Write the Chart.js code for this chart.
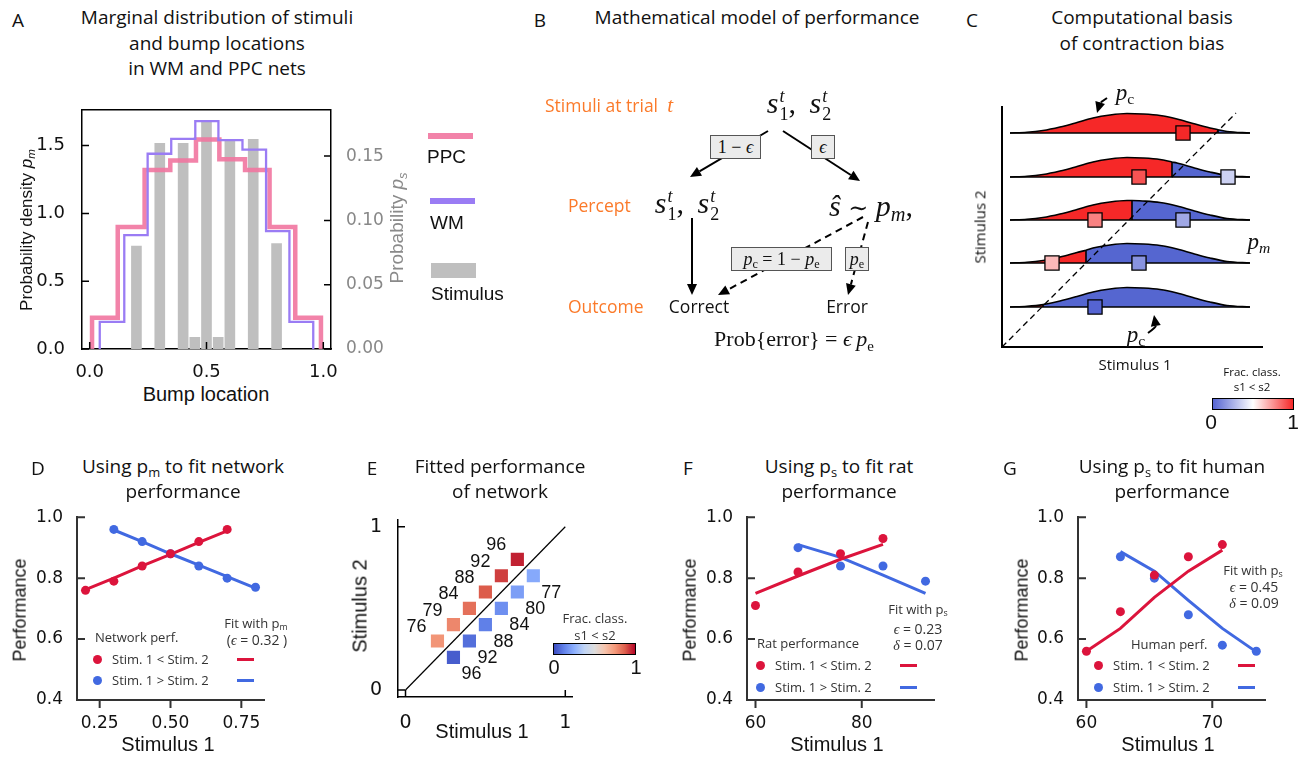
<!DOCTYPE html>
<html>
<head>
<meta charset="utf-8">
<script src="https://cdn.jsdelivr.net/npm/chart.js@4.4.1/dist/chart.umd.min.js"></script>
<style>
  body { margin: 0; background: #fff; }
  #fig { position: relative; width: 1309px; height: 758px; overflow: hidden; font-family: "Open Sans", sans-serif; color: #111; }
  #fig canvas { position: absolute; }
  .t { position: absolute; white-space: nowrap; line-height: 1.15; }
  .cm { font-family: "Liberation Serif", "DejaVu Serif", serif; }
  .ls { font-family: "Liberation Sans", sans-serif; }
  .stk { display: inline-block; vertical-align: -0.38em; font-size: 0.6em; line-height: 1.0; text-align: left; margin-left: 1px; }
  .stk span { display: block; }
  .tl { font-family: "DejaVu Serif", serif; font-style: normal; font-size: 0.8em; }
  sub { font-size: 0.68em; vertical-align: -0.28em; line-height: 0; font-style: normal; }
  .box { position: absolute; background: #ebebeb; border: 1.5px solid #555; box-sizing: border-box; display: flex; align-items: center; justify-content: center; font-family: "Liberation Serif", serif; font-size: 18px; white-space: nowrap; }
</style>
</head>
<body>
<div id="fig"></div>
<script>
// ---------- A: marginal distributions
const ppcEdges = [0.01, 0.12, 0.235, 0.345, 0.455, 0.555, 0.665, 0.77, 0.88, 0.99];
const ppcDensity = [0.23, 0.90, 1.32, 1.39, 1.545, 1.40, 1.32, 0.90, 0.23];
const wmEdges = [0.043, 0.148, 0.248, 0.349, 0.452, 0.551, 0.654, 0.755, 0.855, 0.957];
const wmDensity = [0.20, 0.84, 1.44, 1.55, 1.68, 1.54, 1.47, 0.87, 0.20];
const stimLocs = [0.2, 0.3, 0.4, 0.45, 0.5, 0.55, 0.6, 0.7, 0.8];
const stimProbs = [0.080, 0.160, 0.160, 0.009, 0.177, 0.009, 0.162, 0.163, 0.082];

// ---------- C: sketch of p_m around each stimulus 2 level
const ridgeBase = [214, 170, 127, 84, 40];
const ridgeSplit = [216, 170, 130, 84, 41];
const ridgeSplitH = [3.3, 15, 19.5, 12.8, 2.4];
const bumpX = [8, 25, 41, 58, 75, 91, 108, 125, 141, 158, 175, 191, 208, 225, 248];
const bumpH = [0, 0.7, 2.5, 6, 10.5, 15, 18, 19.5, 19, 17.5, 14, 9.5, 5, 1.5, 0];
const sqX = [181, 137, 226, 93, 181, 50, 137, 93];
const sqRow = [0, 1, 1, 2, 2, 3, 3, 4];
const sqFrac = [1.0, 0.9, 0.35, 0.79, 0.22, 0.66, 0.15, 0.0];

// ---------- D / E: network
const netStimLo = [0.2, 0.3, 0.4, 0.5, 0.6, 0.7];
const netPerfLo = [0.76, 0.79, 0.84, 0.88, 0.92, 0.96];
const netFitLo = [0.762, 0.80, 0.84, 0.878, 0.917, 0.955];
const netStimHi = [0.3, 0.4, 0.5, 0.6, 0.7, 0.8];
const netPerfHi = [0.96, 0.92, 0.88, 0.84, 0.80, 0.77];
const netFitHi = [0.958, 0.92, 0.88, 0.843, 0.805, 0.767];

const gridS1Lo = [0.2, 0.3, 0.4, 0.5, 0.6, 0.7];
const gridS2Lo = [0.3, 0.4, 0.5, 0.6, 0.7, 0.8];
const gridPerfLo = [0.76, 0.79, 0.84, 0.88, 0.92, 0.96];
const gridS1Hi = [0.3, 0.4, 0.5, 0.6, 0.7, 0.8];
const gridS2Hi = [0.2, 0.3, 0.4, 0.5, 0.6, 0.7];
const gridPerfHi = [0.96, 0.92, 0.88, 0.84, 0.80, 0.77];

// ---------- F: rats
const ratStimLo = [60, 68, 76, 84];
const ratPerfLo = [0.71, 0.82, 0.88, 0.93];
const ratFitLo = [0.75, 0.807, 0.862, 0.911];
const ratStimHi = [68, 76, 84, 92];
const ratPerfHi = [0.90, 0.84, 0.84, 0.79];
const ratFitHi = [0.91, 0.868, 0.81, 0.75];

// ---------- G: humans
const humStimLo = [60, 62.7, 65.4, 68.1, 70.8];
const humPerfLo = [0.56, 0.69, 0.81, 0.87, 0.91];
const humFitLo = [0.56, 0.635, 0.737, 0.823, 0.892];
const humStimHi = [62.7, 65.4, 68.1, 70.8, 73.5];
const humPerfHi = [0.87, 0.80, 0.68, 0.58, 0.56];
const humFitHi = [0.887, 0.823, 0.727, 0.635, 0.558];

const RED = '#dc143c', BLUE = '#4169e1';
const PINK = 'rgba(241,118,160,0.9)', PURPLE = '#9a7cf4';
const coolwarm = [[59,76,192],[98,130,234],[141,176,254],[192,212,245],[221,221,221],[245,196,173],[244,154,123],[222,96,77],[180,4,38]];
const bwr = [[85,100,210],[255,255,255],[245,40,40]];

function cmap(stops, t) {
  t = Math.min(1, Math.max(0, t));
  const f = t * (stops.length - 1);
  const i = Math.min(Math.floor(f), stops.length - 2);
  const u = f - i;
  const c = stops[i].map((v, k) => Math.round(v + u * (stops[i + 1][k] - v)));
  return 'rgb(' + c.join(',') + ')';
}
const pts = (xs, ys) => xs.map((x, i) => ({x: x, y: ys[i]}));

Chart.defaults.font.family = 'DejaVu Sans';
const fig = document.getElementById('fig');

function canvasAt(x, y, w, h) {
  const c = document.createElement('canvas');
  c.width = w; c.height = h;
  c.style.left = x + 'px'; c.style.top = y + 'px';
  c.style.width = w + 'px'; c.style.height = h + 'px';
  fig.appendChild(c);
  return c;
}
function put(html, x, y, o = {}) {
  const d = document.createElement('div');
  d.className = 't' + (o.cls ? ' ' + o.cls : '');
  d.innerHTML = html;
  d.style.left = x + 'px';
  d.style.top = y + 'px';
  d.style.fontSize = (o.fs || 17) + 'px';
  if (o.color) d.style.color = o.color;
  let tf = o.left ? 'translate(0,-50%)' : 'translate(-50%,-50%)';
  if (o.rot) tf += ' rotate(-90deg)';
  d.style.transform = tf;
  fig.appendChild(d);
  return d;
}
function rect(x, y, w, h, css) {
  const d = document.createElement('div');
  Object.assign(d.style, {position: 'absolute', left: x + 'px', top: y + 'px', width: w + 'px', height: h + 'px'}, css || {});
  fig.appendChild(d);
  return d;
}
function box(x, y, w, h, html) {
  const d = rect(x, y, w, h);
  d.className = 'box';
  d.innerHTML = '<span>' + html + '</span>';
}

const base = {
  responsive: false, animation: false, devicePixelRatio: 1, events: [],
  plugins: {legend: {display: false}, tooltip: {enabled: false}}
};

function axis(o) {
  return {
    type: 'linear', min: o.min, max: o.max, position: o.pos, offset: false,
    grid: {display: false},
    border: {display: true, color: o.spine || '#000', width: o.bw || 1.5},
    ticks: {display: o.ticks !== undefined, padding: o.pad || 0, color: o.tc || '#111',
            font: {family: 'DejaVu Sans', size: o.fs || 17}, callback: o.fmt},
    afterBuildTicks: s => { if (o.ticks) s.ticks = o.ticks.map(v => ({value: v})); },
    afterFit: s => { if (o.w != null) s.width = o.w; if (o.h != null) s.height = o.h; }
  };
}

// tick marks drawn by hand so they can point inward or outward
function tickMarks(spec) {
  return {
    id: 'tickMarks',
    afterDraw(chart) {
      const ctx = chart.ctx;
      for (const id in spec) {
        const s = chart.scales[id], m = spec[id];
        ctx.save();
        ctx.strokeStyle = m.color || '#000';
        ctx.lineWidth = m.lw || 1.5;
        ctx.beginPath();
        for (const t of s.ticks) {
          const p = s.getPixelForValue(t.value);
          if (s.isHorizontal()) {
            const y0 = s.position === 'top' ? s.bottom : s.top;
            ctx.moveTo(p, y0); ctx.lineTo(p, y0 + m.len);
          } else {
            const x0 = s.position === 'left' ? s.right : s.left;
            ctx.moveTo(x0, p); ctx.lineTo(x0 + m.len, p);
          }
        }
        ctx.stroke();
        ctx.restore();
      }
    }
  };
}

function drawArrow(ctx, x0, y0, x1, y1, dashed, cx, cy) {
  const a = cx === undefined ? Math.atan2(y1 - y0, x1 - x0) : Math.atan2(y1 - cy, x1 - cx);
  const hl = 11, hw = 5;
  const bx = x1 - hl * Math.cos(a), by = y1 - hl * Math.sin(a);
  ctx.save();
  ctx.strokeStyle = '#000'; ctx.fillStyle = '#000'; ctx.lineWidth = 2;
  ctx.setLineDash(dashed ? [7, 5] : []);
  ctx.beginPath();
  ctx.moveTo(x0, y0);
  if (cx === undefined) ctx.lineTo(bx, by); else ctx.quadraticCurveTo(cx, cy, bx, by);
  ctx.stroke();
  ctx.setLineDash([]);
  ctx.beginPath();
  ctx.moveTo(x1, y1);
  ctx.lineTo(bx - hw * Math.sin(a), by + hw * Math.cos(a));
  ctx.lineTo(bx + hw * Math.sin(a), by - hw * Math.cos(a));
  ctx.closePath();
  ctx.fill();
  ctx.restore();
}

// =================== A ===================
const stepPts = (edges, dens) =>
  [{x: edges[0], y: 0}].concat(dens.map((d, i) => ({x: edges[i + 1], y: d})), [{x: edges[edges.length - 1], y: 0}]);

new Chart(canvasAt(30, 90, 361, 291), {
  type: 'bar',
  data: {datasets: [
    {type: 'line', data: stepPts(wmEdges, wmDensity), stepped: 'after', borderColor: PURPLE, borderWidth: 2.3, pointRadius: 0, yAxisID: 'y', order: 0},
    {type: 'line', data: stepPts(ppcEdges, ppcDensity), stepped: 'after', borderColor: PINK, borderWidth: 4.5, pointRadius: 0, yAxisID: 'y', order: 1},
    {type: 'bar', data: pts(stimLocs, stimProbs), backgroundColor: '#bfbfbf', barThickness: 10, yAxisID: 'y2', order: 2}
  ]},
  options: Object.assign({}, base, {
    layout: {padding: {top: 12, right: 0, left: 0, bottom: 0}},
    scales: {
      x: axis({min: -0.033, max: 1.033, pos: 'bottom', ticks: [0, 0.5, 1], fmt: v => v.toFixed(1), fs: 18, pad: 5, h: 32}),
      y: axis({min: 0, max: 1.764, pos: 'left', ticks: [0, 0.5, 1, 1.5], fmt: v => v.toFixed(1), fs: 18, pad: 9, w: 52}),
      y2: axis({min: 0, max: 0.186, pos: 'right', ticks: [0, 0.05, 0.10, 0.15], fmt: v => v.toFixed(2), fs: 17, pad: 7, w: 60, tc: '#888'})
    }
  }),
  plugins: [tickMarks({x: {len: -7}, y: {len: 7}, y2: {len: -7}}), {
    id: 'topSpine',
    afterDraw(chart) {
      const {ctx, chartArea: a} = chart;
      ctx.save(); ctx.strokeStyle = '#000'; ctx.lineWidth = 1.5;
      ctx.beginPath(); ctx.moveTo(a.left, a.top); ctx.lineTo(a.right, a.top); ctx.stroke();
      ctx.restore();
    }
  }]
});

put('A', 18, 21, {fs: 19});
put('Marginal distribution of stimuli', 217, 18, {fs: 19});
put('and bump locations', 217, 44, {fs: 19});
put('in WM and PPC nets', 217, 69, {fs: 19});
put('Bump location', 206, 394, {fs: 20, cls: 'ls'});
put('Probability density <i>p<sub><i>m</i></sub></i>', 27, 230, {fs: 17, cls: 'ls', rot: true});
put('Probability <i>p<sub><i>s</i></sub></i>', 397, 228, {fs: 19, cls: 'ls', rot: true, color: '#8a8a8a'});
rect(428, 133, 45, 6, {background: PINK});
put('PPC', 427, 157, {fs: 19, cls: 'ls', left: true});
rect(430, 198, 45, 6, {background: PURPLE});
put('WM', 430, 223, {fs: 19, cls: 'ls', left: true});
rect(431, 263, 45, 15, {background: '#bfbfbf'});
put('Stimulus', 431, 294, {fs: 19, cls: 'ls', left: true});

// =================== B ===================
const flowArrows = [
  {from: [228, 71], to: [150, 117]},
  {from: [243, 71], to: [320, 121]},
  {from: [152, 158], to: [152, 235]},
  {from: [323, 157], to: [178, 235], dashed: true},
  {from: [328, 162], to: [308, 235], dashed: true}
];
new Chart(canvasAt(540, 60, 410, 300), {
  type: 'line',
  data: {datasets: []},
  options: Object.assign({}, base, {
    layout: {padding: 0},
    scales: {
      x: {type: 'linear', display: false, min: 0, max: 410},
      y: {type: 'linear', display: false, min: 0, max: 300, reverse: true}
    }
  }),
  plugins: [{
    id: 'flow',
    afterDraw(chart) {
      const {ctx, scales: {x, y}} = chart;
      flowArrows.forEach(a => drawArrow(ctx,
        x.getPixelForValue(a.from[0]), y.getPixelForValue(a.from[1]),
        x.getPixelForValue(a.to[0]), y.getPixelForValue(a.to[1]), a.dashed));
    }
  }]
});

const ORANGE = '#fb7a2a';
const sT = n => '<i>s</i><span class="stk"><span><i>t</i></span><span>' + n + '</span></span>';
put('B', 540, 21, {fs: 19});
put('Mathematical model of performance', 757, 18, {fs: 19});
put('Stimuli at trial&nbsp; <i class="cm" style="font-size:21px">t</i>', 545, 105, {fs: 17.5, left: true, color: ORANGE});
put(sT(1) + ',&nbsp;&thinsp;' + sT(2), 799, 104, {fs: 30, cls: 'cm'});
put('Percept', 568, 205, {fs: 17.5, left: true, color: ORANGE});
put(sT(1) + ',&nbsp;&thinsp;' + sT(2), 687, 204, {fs: 30, cls: 'cm'});
put('<i>ŝ</i>&nbsp;<span class="tl">∼</span>&nbsp;<i>p</i><sub><i>m</i></sub>,', 871, 206, {fs: 30, cls: 'cm'});
put('Outcome', 568, 306, {fs: 17.5, left: true, color: ORANGE});
put('Correct', 699, 306, {fs: 17.5});
put('Error', 847, 306, {fs: 17.5});
put('Prob{error} = <i>ϵ</i>&thinsp;<i>p</i><sub>e</sub>', 794, 339, {fs: 22, cls: 'cm'});
box(710, 135, 51, 24, '1 − <i>ϵ</i>');
box(811, 135, 24, 24, '<i>ϵ</i>');
box(731, 247, 101, 24, '<i>p</i><sub>c</sub> = 1 − <i>p</i><sub>e</sub>');
box(845, 247, 24, 24, '<i>p</i><sub>e</sub>');

// =================== C ===================
const RIDGE_RED = 'rgb(246,40,40)', RIDGE_BLUE = 'rgb(85,102,208)';
const ridgeSets = [];
ridgeBase.forEach((b, r) => {
  const s = ridgeSplit[r];
  const curve = bumpX.map((x, i) => ({x: x, y: b + bumpH[i]})).filter(p => p.x !== s);
  curve.push({x: s, y: b + ridgeSplitH[r]});
  curve.sort((p, q) => p.x - q.x);
  ridgeSets.push({
    data: curve, borderColor: '#000', borderWidth: 1.6, pointRadius: 0,
    cubicInterpolationMode: 'monotone', fill: {value: b}, backgroundColor: RIDGE_BLUE,
    segment: {backgroundColor: c => c.p0.parsed.x < s ? RIDGE_RED : RIDGE_BLUE}, order: 4
  });
  ridgeSets.push({data: [{x: bumpX[0], y: b}, {x: bumpX[bumpX.length - 1], y: b}], borderColor: '#000', borderWidth: 1.6, pointRadius: 0, order: 3});
  ridgeSets.push({data: [{x: s, y: b}, {x: s, y: b + ridgeSplitH[r]}], borderColor: '#000', borderWidth: 1.6, pointRadius: 0, order: 3});
});
ridgeSets.push({data: [{x: 0, y: 0}, {x: 234, y: 234}], borderColor: '#000', borderWidth: 1.3, borderDash: [6, 4], pointRadius: 0, order: 1});
ridgeSets.push({
  data: sqX.map((x, i) => ({x: x, y: ridgeBase[sqRow[i]]})), showLine: false,
  pointStyle: 'rect', pointRadius: 10, pointBackgroundColor: sqFrac.map(f => cmap(bwr, f)),
  pointBorderColor: '#000', pointBorderWidth: 1.3, order: 0
});

new Chart(canvasAt(960, 60, 349, 300), {
  type: 'line',
  data: {datasets: ridgeSets},
  options: Object.assign({}, base, {
    layout: {padding: {top: 47, right: 47, left: 0, bottom: 0}},
    scales: {
      x: axis({min: 0, max: 260, pos: 'bottom', h: 13, bw: 2}),
      y: axis({min: 0, max: 240, pos: 'left', w: 42, bw: 2})
    }
  }),
  plugins: [{
    id: 'pcArrows',
    afterDraw(chart) {
      const {ctx, scales: {x, y}} = chart;
      const P = (a, b) => [x.getPixelForValue(a), y.getPixelForValue(b)];
      let s = P(105, 249), c = P(98, 244), e = P(95, 234);
      drawArrow(ctx, s[0], s[1], e[0], e[1], false, c[0], c[1]);
      s = P(146, 14); c = P(154, 20); e = P(152, 32);
      drawArrow(ctx, s[0], s[1], e[0], e[1], false, c[0], c[1]);
    }
  }]
});

put('C', 972, 21, {fs: 19});
put('Computational basis', 1142, 18, {fs: 19});
put('of contraction bias', 1142, 44, {fs: 19});
put('<i>p</i><sub>c</sub>', 1125, 93, {fs: 23, cls: 'cm'});
put('<i>p</i><sub>c</sub>', 1136, 335, {fs: 23, cls: 'cm'});
put('<i>p</i><sub><i>m</i></sub>', 1259, 242, {fs: 23, cls: 'cm'});
put('Stimulus 2', 980, 227, {fs: 15, rot: true});
put('Stimulus 1', 1135, 365, {fs: 15});
put('Frac. class.', 1252, 372, {fs: 11.5});
put('s1 &lt; s2', 1252, 387, {fs: 11.5});
rect(1212, 398, 82, 12, {background: 'linear-gradient(to right,' + cmap(bwr, 0) + ',' + cmap(bwr, 0.5) + ',' + cmap(bwr, 1) + ')', border: '1.5px solid #000', boxSizing: 'border-box'});
put('0', 1211, 422, {fs: 21, cls: 'ls'});
put('1', 1293, 422, {fs: 21, cls: 'ls'});

// =================== D / F / G ===================
function perfChart(x0, o) {
  new Chart(canvasAt(x0, 501, 247, 233), {
    type: 'line',
    data: {datasets: [
      {data: pts(o.sLo, o.pLo), showLine: false, pointRadius: 4.5, pointBackgroundColor: RED, pointBorderWidth: 0, order: 0},
      {data: pts(o.sHi, o.pHi), showLine: false, pointRadius: 4.5, pointBackgroundColor: BLUE, pointBorderWidth: 0, order: 0},
      {data: pts(o.sLo, o.fLo), borderColor: RED, borderWidth: 3, pointRadius: 0, order: 1},
      {data: pts(o.sHi, o.fHi), borderColor: BLUE, borderWidth: 3, pointRadius: 0, order: 1}
    ]},
    options: Object.assign({}, base, {
      layout: {padding: {top: 12, right: 10, left: 0, bottom: 0}},
      scales: {
        x: axis({min: o.xmin, max: o.xmax, pos: 'bottom', ticks: o.xt, fmt: o.xf, fs: 17, pad: 5, h: 34, spine: '#333', bw: 2}),
        y: axis({min: 0.4, max: 1.0, pos: 'left', ticks: [0.4, 0.6, 0.8, 1.0], fmt: v => v.toFixed(1), fs: 17, pad: 6, w: 50, spine: '#333', bw: 2})
      }
    }),
    plugins: [tickMarks({x: {len: 8, color: '#333', lw: 2}, y: {len: 8, color: '#333', lw: 2}})]
  });
}
function legendRows(dotX, textX, lineX, y1, y2) {
  [[y1, RED, 'Stim. 1 &lt; Stim. 2'], [y2, BLUE, 'Stim. 1 &gt; Stim. 2']].forEach(r => {
    rect(dotX - 4.5, r[0] - 4.5, 9, 9, {background: r[1], borderRadius: '50%'});
    put(r[2], textX, r[0], {fs: 13, left: true, color: '#333'});
    rect(lineX, r[0] - 1.5, 17, 3, {background: r[1]});
  });
}

perfChart(27, {sLo: netStimLo, pLo: netPerfLo, fLo: netFitLo, sHi: netStimHi, pHi: netPerfHi, fHi: netFitHi,
  xmin: 0.17, xmax: 0.83, xt: [0.25, 0.5, 0.75], xf: v => v.toFixed(2)});
put('D', 38, 469, {fs: 19});
put('Using p<sub>m</sub> to fit network', 183, 467, {fs: 19});
put('performance', 183, 492, {fs: 19});
put('Performance', 20, 610, {fs: 18, cls: 'ls', rot: true});
put('Stimulus 1', 168, 744, {fs: 20, cls: 'ls'});
put('Network perf.', 95, 637, {fs: 13, left: true, color: '#333'});
legendRows(97, 112, 237, 659, 680);
put('Fit with p<sub>m</sub>', 256, 623, {fs: 13, color: '#333'});
put('(<i class="cm">ϵ</i> = 0.32 )', 257, 641, {fs: 14, color: '#333'});

perfChart(697, {sLo: ratStimLo, pLo: ratPerfLo, fLo: ratFitLo, sHi: ratStimHi, pHi: ratPerfHi, fHi: ratFitHi,
  xmin: 58.4, xmax: 93.6, xt: [60, 80], xf: v => String(v)});
put('F', 688, 469, {fs: 19});
put('Using p<sub>s</sub> to fit rat', 839, 467, {fs: 19});
put('performance', 839, 492, {fs: 19});
put('Performance', 690, 610, {fs: 18, cls: 'ls', rot: true});
put('Stimulus 1', 837, 744, {fs: 20, cls: 'ls'});
put('Rat performance', 757, 643, {fs: 13, left: true, color: '#333'});
legendRows(760, 775, 900, 665, 687);
put('Fit with p<sub>s</sub>', 918, 609, {fs: 13, color: '#333'});
put('<i class="cm">ϵ</i> = 0.23', 918, 630, {fs: 14, color: '#333'});
put('<i class="cm">δ</i> = 0.07', 918, 646, {fs: 14, color: '#333'});

perfChart(1028, {sLo: humStimLo, pLo: humPerfLo, fLo: humFitLo, sHi: humStimHi, pHi: humPerfHi, fHi: humFitHi,
  xmin: 59.33, xmax: 74.19, xt: [60, 70], xf: v => String(v)});
put('G', 1010, 469, {fs: 19});
put('Using p<sub>s</sub> to fit human', 1172, 467, {fs: 19});
put('performance', 1172, 492, {fs: 19});
put('Performance', 1022, 610, {fs: 18, cls: 'ls', rot: true});
put('Stimulus 1', 1168, 744, {fs: 20, cls: 'ls'});
put('Human perf.', 1131, 644, {fs: 13, left: true, color: '#333'});
legendRows(1098, 1113, 1238, 665, 687);
put('Fit with p<sub>s</sub>', 1253, 570, {fs: 13, color: '#333'});
put('<i class="cm">ϵ</i> = 0.45', 1254, 588, {fs: 14, color: '#333'});
put('<i class="cm">δ</i> = 0.09', 1254, 604, {fs: 14, color: '#333'});

// =================== E ===================
new Chart(canvasAt(358, 500, 224, 231), {
  type: 'line',
  data: {datasets: [
    {data: [{x: 0, y: 0}, {x: 1, y: 1}], borderColor: '#000', borderWidth: 1.2, pointRadius: 0, order: 2},
    {data: pts(gridS1Lo, gridS2Lo), showLine: false, pointStyle: 'rect', pointRadius: 9.3,
     pointBackgroundColor: gridPerfLo.map(p => cmap(coolwarm, p)), pointBorderWidth: 0, order: 1},
    {data: pts(gridS1Hi, gridS2Hi), showLine: false, pointStyle: 'rect', pointRadius: 9.3,
     pointBackgroundColor: gridPerfHi.map(p => cmap(coolwarm, 1 - p)), pointBorderWidth: 0, order: 1}
  ]},
  options: Object.assign({}, base, {
    layout: {padding: {top: 12, right: 10, left: 0, bottom: 0}},
    scales: {
      x: axis({min: -0.047, max: 1.042, pos: 'bottom', ticks: [0, 1], fmt: v => String(v), fs: 19, pad: 7, h: 34}),
      y: axis({min: -0.043, max: 1.045, pos: 'left', ticks: [0, 1], fmt: v => String(v), fs: 19, pad: 8, w: 40})
    }
  }),
  plugins: [tickMarks({x: {len: -7}, y: {len: 7}}), {
    id: 'cellLabels',
    afterDatasetsDraw(chart) {
      const {ctx, scales: {x, y}} = chart;
      ctx.save();
      ctx.font = '18px "Liberation Sans"';
      ctx.fillStyle = '#111';
      ctx.textAlign = 'center';
      ctx.textBaseline = 'middle';
      gridS1Lo.forEach((s1, i) => ctx.fillText(String(Math.round(gridPerfLo[i] * 100)),
        x.getPixelForValue(s1) - 21, y.getPixelForValue(gridS2Lo[i]) - 14));
      gridS1Hi.forEach((s1, i) => ctx.fillText(String(Math.round(gridPerfHi[i] * 100)),
        x.getPixelForValue(s1) + 18, y.getPixelForValue(gridS2Hi[i]) + 17));
      ctx.restore();
    }
  }]
});
put('E', 372, 469, {fs: 19});
put('Fitted performance', 500, 467, {fs: 19});
put('of network', 500, 492, {fs: 19});
put('Stimulus 2', 360, 606, {fs: 20, cls: 'ls', rot: true});
put('Stimulus 1', 482, 731, {fs: 20, cls: 'ls'});
put('Frac. class.', 595, 618, {fs: 13, color: '#333'});
put('s1 &lt; s2', 595, 635, {fs: 13, color: '#333'});
rect(553, 643, 83, 12, {background: 'linear-gradient(to right,' + coolwarm.map(c => 'rgb(' + c.join(',') + ')').join(',') + ')', border: '1.5px solid #000', boxSizing: 'border-box'});
put('0', 554, 667, {fs: 20, cls: 'ls'});
put('1', 636, 667, {fs: 20, cls: 'ls'});
</script>
</body>
</html>
